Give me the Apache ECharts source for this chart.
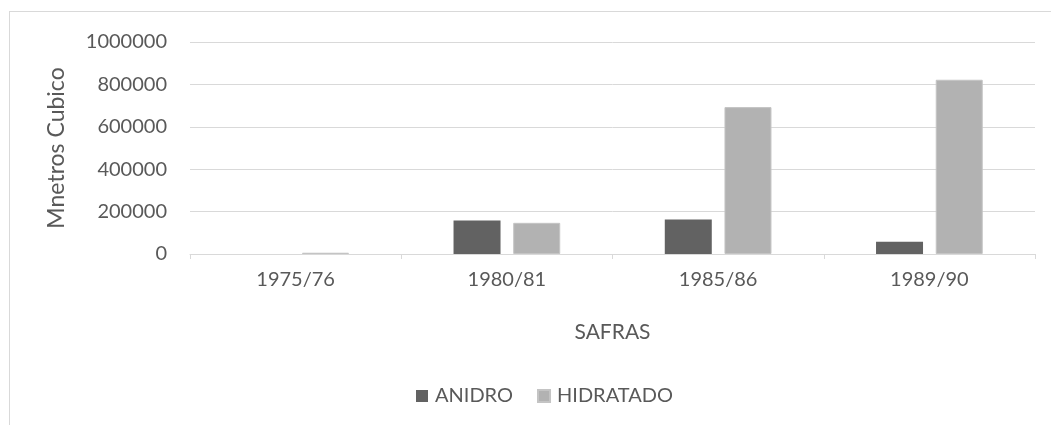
<!DOCTYPE html>
<html>
<head>
<meta charset="utf-8">
<script src="https://cdn.jsdelivr.net/npm/echarts@6/dist/echarts.min.js"></script>
<style>
  html, body { margin: 0; padding: 0; background: #fff; overflow: hidden; }
  #frame { position: absolute; left: 9px; top: 11px; width: 1100px; height: 500px; border: 1px solid #d9d9d9; }
  #chart { position: absolute; left: 0; top: 0; width: 1051px; height: 425px; }
</style>
</head>
<body>
<div id="frame"></div>
<div id="chart"></div>
<script>
// safras e volumes (metros cubicos)
var safras = ['1975/76', '1980/81', '1985/86', '1989/90']
var anidro = [0, 158000, 163000, 58000]
var hidratado = [6000, 147000, 693000, 822000]
var yTicks = [0, 200000, 400000, 600000, 800000, 1000000]

var myChart = echarts.init(document.getElementById('chart'))
var fontFamily = 'Lato'

var option = {
    animation: false,
    textStyle: { fontFamily: fontFamily },
    grid: { left: 190, right: 16, top: 42, bottom: 171 },
    legend: {
        bottom: 14,
        left: 411,
        itemWidth: 12,
        itemHeight: 12,
        itemGap: 24,
        icon: 'rect',
        textStyle: { color: '#595959', fontSize: 20, fontFamily: fontFamily, padding: [0, 0, 0, 2] },
        data: ['ANIDRO', 'HIDRATADO']
    },
    xAxis: {
        type: 'category',
        data: safras,
        name: 'SAFRAS',
        nameLocation: 'middle',
        nameGap: 68,
        nameTextStyle: { color: '#595959', fontSize: 21, fontFamily: fontFamily },
        axisLine: { lineStyle: { color: '#d9d9d9', width: 1 } },
        axisTick: { show: true, length: 5, lineStyle: { color: '#d9d9d9' } },
        axisLabel: { color: '#595959', fontSize: 20, margin: 16, fontFamily: fontFamily }
    },
    yAxis: {
        type: 'value',
        min: yTicks[0],
        max: yTicks[yTicks.length - 1],
        interval: 200000,
        name: 'Mnetros Cubico',
        nameLocation: 'middle',
        nameGap: 122,
        nameTextStyle: { color: '#595959', fontSize: 23, fontFamily: fontFamily },
        axisLine: { show: false },
        axisTick: { show: false },
        axisLabel: {
            color: '#595959', fontSize: 20, margin: 23, fontFamily: fontFamily,
            formatter: function (v) { return String(v) }
        },
        splitLine: { lineStyle: { color: '#d9d9d9', width: 1 } }
    },
    series: [
        {
            name: 'ANIDRO',
            type: 'bar',
            data: anidro,
            barWidth: 47,
            barGap: '27%',
            itemStyle: { color: '#626262' }
        },
        {
            name: 'HIDRATADO',
            type: 'bar',
            data: hidratado,
            barWidth: 47,
            itemStyle: { color: '#b2b2b2', borderColor: '#c4c4c4', borderWidth: 1 }
        }
    ]
}

myChart.setOption(option)
</script>
</body>
</html>
